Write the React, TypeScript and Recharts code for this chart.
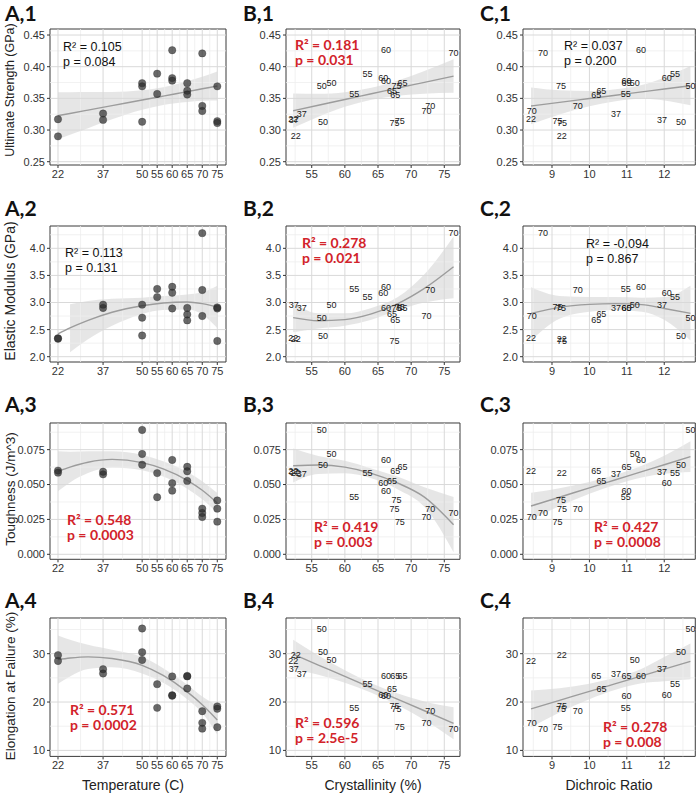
import React from 'react';
import { ComposedChart, Scatter, Line, Area, XAxis, YAxis, ReferenceLine, ReferenceArea } from 'recharts';

// ---------------- data (one entry per specimen) ----------------
const temperatures = [22, 22, 37, 37, 50, 50, 50, 55, 55, 60, 60, 60, 65, 65, 65, 70, 70, 70, 75, 75, 75];
const crystallinity = [52.2, 52.6, 53.5, 52.3, 58.0, 56.5, 56.7, 63.4, 61.4, 66.2, 65.8, 66.2, 68.7, 67.1, 67.6, 76.4, 72.9, 72.3, 67.8, 68.3, 67.5];
const dichroicRatio = [8.44, 9.26, 10.71, 11.94, 11.21, 12.7, 12.45, 12.29, 10.97, 11.38, 12.07, 10.99, 10.99, 10.32, 10.18, 8.76, 9.69, 8.46, 9.24, 9.15, 9.27];
const ultimateStrength = [0.317, 0.29, 0.326, 0.316, 0.374, 0.369, 0.313, 0.389, 0.357, 0.426, 0.382, 0.378, 0.374, 0.362, 0.356, 0.421, 0.338, 0.33, 0.369, 0.314, 0.311];
const elasticModulus = [2.34, 2.33, 2.9, 2.96, 2.96, 2.72, 2.39, 3.1, 3.25, 3.29, 3.18, 2.89, 2.9, 2.78, 2.67, 4.28, 3.23, 2.75, 2.89, 2.91, 2.29];
const toughness = [0.06, 0.0585, 0.0573, 0.0592, 0.0719, 0.0891, 0.0642, 0.0582, 0.0409, 0.0676, 0.051, 0.0456, 0.0627, 0.0526, 0.0595, 0.0296, 0.0327, 0.0267, 0.0386, 0.0234, 0.0327];
const elongation = [28.5, 29.7, 25.9, 26.8, 28.7, 35.2, 30.3, 23.7, 18.8, 25.3, 21.4, 21.3, 25.3, 22.8, 25.4, 14.5, 18.1, 15.7, 18.6, 14.8, 19.1];

// ---------------- axis ticks ----------------
const tempTicks = [22, 37, 50, 55, 60, 65, 70, 75];
const crystTicks = [55, 60, 65, 70, 75];
const dichroicTicks = [9, 10, 11, 12];
const strengthTicks = [0.25, 0.3, 0.35, 0.4, 0.45];
const modulusTicks = [2.0, 2.5, 3.0, 3.5, 4.0];
const toughnessTicks = [0, 0.025, 0.05, 0.075];
const elongationTicks = [10, 20, 30];

const tempMinor = [29.5, 43.5, 52.5, 57.5, 62.5, 67.5, 72.5];
const crystMinor = [52.5, 57.5, 62.5, 67.5, 72.5];
const dichroicMinor = [8.5, 9.5, 10.5, 11.5, 12.5];
const strengthMinor = [0.275, 0.325, 0.375, 0.425];
const modulusMinor = [2.25, 2.75, 3.25, 3.75, 4.25];
const toughnessMinor = [0.0125, 0.0375, 0.0625, 0.0875];
const elongationMinor = [15, 25, 35];

// ---------------- fitted curves and confidence bands ----------------
const fitXTemp = [22, 26, 32, 40, 50, 57, 65, 70, 75];
const fitXCryst = [52.2, 56, 60, 64, 68, 72, 76.4];
const fitXDichroic = [8.44, 9.2, 10, 10.7, 11.4, 12, 12.7];

const fitA1 = [0.3227, 0.3262, 0.3315, 0.3386, 0.3474, 0.3536, 0.3607, 0.3651, 0.3695];
const loA1 = [0.2857, 0.2927, 0.303, 0.317, 0.3319, 0.3396, 0.3444, 0.3461, 0.3465];
const hiA1 = [0.3597, 0.3597, 0.36, 0.3602, 0.3629, 0.3676, 0.377, 0.3841, 0.3925];
const fitA2 = [2.42, 2.53, 2.67, 2.82, 2.94, 2.99, 3.01, 2.98, 2.92];
const loA2 = [null, 2.08, 2.32, 2.57, 2.79, 2.86, 2.87, 2.78, 2.53];
const hiA2 = [null, 2.97, 3.03, 3.07, 3.09, 3.12, 3.15, 3.19, 3.31];
const fitA3 = [0.0595, 0.0625, 0.066, 0.068, 0.0657, 0.0612, 0.053, 0.0459, 0.0368];
const loA3 = [0.0452, 0.0515, 0.0582, 0.0622, 0.0602, 0.0557, 0.047, 0.0394, 0.0296];
const hiA3 = [0.0738, 0.0735, 0.0738, 0.0738, 0.0712, 0.0667, 0.059, 0.0524, 0.044];
const fitA4 = [28.76, 29.1, 29.35, 29.0, 27.6, 25.5, 22.1, 19.45, 16.3];
const loA4 = [23.76, 25.3, 26.85, 27.2, 25.9, 24.0, 20.6, 17.75, 13.3];
const hiA4 = [33.76, 32.9, 31.85, 30.8, 29.3, 27.0, 23.6, 21.15, 19.3];

const fitB1 = [0.3305, 0.3391, 0.3482, 0.3572, 0.3663, 0.3753, 0.3852];
const loB1 = [0.3035, 0.3211, 0.3367, 0.3477, 0.3543, 0.3573, 0.3587];
const hiB1 = [0.3575, 0.3571, 0.3597, 0.3667, 0.3783, 0.3933, 0.4117];
const fitB2 = [2.72, 2.663, 2.684, 2.79, 2.98, 3.26, 3.66];
const loB2 = [2.45, 2.52, 2.57, 2.68, 2.86, 3.0, 3.08];
const hiB2 = [3.01, 2.8, 2.8, 2.9, 3.1, 3.52, 4.22];
const fitB3 = [0.0635, 0.064, 0.0625, 0.058, 0.051, 0.041, 0.0212];
const loB3 = [0.0515, 0.0575, 0.058, 0.0545, 0.0465, 0.034, 0.0015];
const hiB3 = [0.0758, 0.0705, 0.067, 0.0615, 0.0555, 0.048, 0.041];
const fitB4 = [29.9, 27.65, 25.3, 22.9, 20.55, 18.2, 15.6];
const loB4 = [26.9, 25.65, 24.0, 21.9, 19.35, 16.3, 12.3];
const hiB4 = [32.9, 29.65, 26.6, 23.9, 21.75, 20.1, 18.9];

const fitC1 = [0.338, 0.3437, 0.3497, 0.355, 0.3602, 0.3647, 0.37];
const loC1 = [0.309, 0.3247, 0.3377, 0.3455, 0.3492, 0.3467, 0.339];
const hiC1 = [0.367, 0.3627, 0.3617, 0.3645, 0.3712, 0.3827, 0.401];
const fitC2 = [2.8, 2.91, 2.965, 2.98, 2.96, 2.89, 2.8];
const loC2 = [2.3, 2.7, 2.83, 2.86, 2.83, 2.68, 2.3];
const hiC2 = [3.28, 3.12, 3.1, 3.1, 3.09, 3.1, 3.31];
const fitC3 = [0.0346, 0.0409, 0.0476, 0.0534, 0.0592, 0.0642, 0.07];
const loC3 = [0.0251, 0.0344, 0.0434, 0.0498, 0.055, 0.0577, 0.059];
const hiC3 = [0.0441, 0.0474, 0.0518, 0.057, 0.0634, 0.0707, 0.081];
const fitC4 = [18.6, 20.35, 22.2, 23.8, 25.4, 26.8, 28.4];
const loC4 = [14.8, 17.85, 20.6, 22.55, 23.9, 24.3, 24.7];
const hiC4 = [22.4, 22.85, 23.8, 25.05, 26.9, 29.3, 32.1];

// ---------------- statistics text ----------------
const r2Text = ['0.105', '0.181', '0.037', '0.113', '0.278', '-0.094', '0.548', '0.419', '0.427', '0.571', '0.596', '0.278'];
const pText = ['0.084', '0.031', '0.200', '0.131', '0.021', '0.867', '0.0003', '0.003', '0.0008', '0.0002', '2.5e-5', '0.008'];
const significant = [false, true, false, false, true, false, true, true, true, true, true, true];

const yTitles = ['Ultimate Strength (GPa)', 'Elastic Modulus (GPa)', 'Toughness (J/m^3)', 'Elongation at Failure (%)'];
const xTitles = ['Temperature (C)', 'Crystallinity (%)', 'Dichroic Ratio'];
const colLetters = ['A', 'B', 'C'];

// ---------------- layout / style ----------------
const COL_X = [[50, 226], [286, 460], [522.7, 695]];
const ROW_Y = [[29, 165], [226, 362], [422.7, 559], [618.3, 756.7]];
const X_DOMAINS: [number, number][] = [[19.34, 77.9], [51.12, 77.37], [8.225, 12.83]];
const Y_DOMAINS: [number, number][] = [[0.2448, 0.4595], [1.902, 4.412], [-0.00358, 0.0941], [8.76, 37.38]];
const TITLE_X = [5, 243, 480];
const TITLE_Y = [21, 216, 412, 608];
const ANN_POS = [
  [63, 51], [295, 50], [564, 50],
  [65, 257], [302, 248], [586, 248],
  [67, 525], [314, 532], [594, 532],
  [70, 715], [295, 728], [603, 732],
];
const X_TITLE_CX = [133, 373, 609];
const Y_TITLE_CY = [90, 291, 489, 686];
const Y_TITLE_SIZE = [12.5, 14, 13.5, 13.5];

const FONT = "'Liberation Sans', Arial, sans-serif";
const BOLD = "Lato, 'Open Sans', sans-serif";
const RED = '#d2232a';

const X_VALUES = [temperatures, crystallinity, dichroicRatio];
const Y_VALUES = [ultimateStrength, elasticModulus, toughness, elongation];
const X_TICKS = [tempTicks, crystTicks, dichroicTicks];
const Y_TICKS = [strengthTicks, modulusTicks, toughnessTicks, elongationTicks];
const X_MINOR = [tempMinor, crystMinor, dichroicMinor];
const Y_MINOR = [strengthMinor, modulusMinor, toughnessMinor, elongationMinor];
const FIT_X = [fitXTemp, fitXCryst, fitXDichroic];
const FITS = [
  [[fitA1, loA1, hiA1], [fitB1, loB1, hiB1], [fitC1, loC1, hiC1]],
  [[fitA2, loA2, hiA2], [fitB2, loB2, hiB2], [fitC2, loC2, hiC2]],
  [[fitA3, loA3, hiA3], [fitB3, loB3, hiB3], [fitC3, loC3, hiC3]],
  [[fitA4, loA4, hiA4], [fitB4, loB4, hiB4], [fitC4, loC4, hiC4]],
];
const Y_FORMAT = [
  (v: number) => v.toFixed(2),
  (v: number) => v.toFixed(1),
  (v: number) => v.toFixed(3),
  (v: number) => String(v),
];

const dotShape = (p: any) => (
  <circle cx={p.cx} cy={p.cy} r={3.7} fill="#2b2b2b" fillOpacity={0.7} stroke="#222" strokeOpacity={0.5} strokeWidth={0.6} />
);
const labelShape = (p: any) => (
  <text x={p.cx} y={p.cy} textAnchor="middle" dominantBaseline="central" fontSize={9} fontFamily={FONT} fill="#1a1a1a">
    {p.payload.label}
  </text>
);

function Panel({ col, row }: { col: number; row: number }) {
  const [px0, px1] = COL_X[col];
  const [py0, py1] = ROW_Y[row];
  const ML = 45, MT = 6, MR = 6, MB = 22;
  const w = px1 - px0 + ML + MR;
  const h = py1 - py0 + MT + MB;
  const xd = X_DOMAINS[col];
  const yd = Y_DOMAINS[row];
  const points = X_VALUES[col].map((xv, i) => ({ x: xv, y: Y_VALUES[row][i], label: String(temperatures[i]) }));
  const [mid, lo, hi] = FITS[row][col];
  const fit = FIT_X[col].map((xv, i) => ({
    x: xv,
    y: mid[i],
    band: lo[i] == null || hi[i] == null ? null : [lo[i], hi[i]],
  }));
  const tickStyle = { fontSize: 11, fill: '#333', fontFamily: FONT };
  return (
    <div style={{ position: 'absolute', left: px0 - ML, top: py0 - MT, width: w, height: h }}>
      <ComposedChart width={w} height={h} data={fit} margin={{ top: MT, right: MR, bottom: MB - 20, left: ML - 40 }}>
        <XAxis type="number" dataKey="x" domain={xd} ticks={X_TICKS[col]} allowDataOverflow interval={0} height={20}
          tickSize={3} tickMargin={2} axisLine={false} tickLine={{ stroke: '#333' }} tick={tickStyle} />
        <YAxis type="number" dataKey="y" domain={yd} ticks={Y_TICKS[row]} allowDataOverflow interval={0} width={40}
          tickSize={3} tickMargin={2} axisLine={false} tickLine={{ stroke: '#333' }} tick={tickStyle} tickFormatter={Y_FORMAT[row]} />
        {X_MINOR[col].map((v) => <ReferenceLine key={'xm' + v} x={v} stroke="#ededed" strokeWidth={0.8} />)}
        {Y_MINOR[row].map((v) => <ReferenceLine key={'ym' + v} y={v} stroke="#ededed" strokeWidth={0.8} />)}
        {X_TICKS[col].map((v) => <ReferenceLine key={'xM' + v} x={v} stroke="#d9d9d9" strokeWidth={1} />)}
        {Y_TICKS[row].map((v) => <ReferenceLine key={'yM' + v} y={v} stroke="#d9d9d9" strokeWidth={1} />)}
        <Area type="monotone" dataKey="band" stroke="none" fill="#bdbdbd" fillOpacity={0.38} isAnimationActive={false} connectNulls={false} />
        <Line type="monotone" dataKey="y" stroke="#9c9c9c" strokeWidth={1.4} dot={false} isAnimationActive={false} />
        <Scatter data={points} isAnimationActive={false} shape={col === 0 ? dotShape : labelShape} />
        <ReferenceArea x1={xd[0]} x2={xd[1]} y1={yd[0]} y2={yd[1]} fill="none" stroke="#3a3a3a" strokeWidth={1} ifOverflow="visible" />
      </ComposedChart>
    </div>
  );
}

export default function App() {
  const panels: React.ReactNode[] = [];
  for (let r = 0; r < 4; r++) for (let c = 0; c < 3; c++) panels.push(<Panel key={r + '-' + c} col={c} row={r} />);
  return (
    <div style={{ position: 'absolute', left: 0, top: 0, width: 700, height: 797, background: '#fff', overflow: 'hidden' }}>
      {panels}
      <svg width={700} height={797} style={{ position: 'absolute', left: 0, top: 0, pointerEvents: 'none' }}>
        {ROW_Y.map((ry, r) =>
          colLetters.map((L, c) => (
            <text key={'t' + r + c} x={TITLE_X[c]} y={TITLE_Y[r]} fontFamily={BOLD} fontWeight={700} fontSize={21} fill="#111">
              {L + ',' + (r + 1)}
            </text>
          ))
        )}
        {Y_TITLE_CY.map((cy, r) => (
          <text key={'yt' + r} x={10} y={cy} transform={`rotate(-90 10 ${cy})`} textAnchor="middle" dominantBaseline="central"
            fontFamily={FONT} fontSize={Y_TITLE_SIZE[r]} fill="#222">{yTitles[r]}</text>
        ))}
        {xTitles.map((t, c) => (
          <text key={'xt' + c} x={X_TITLE_CX[c]} y={790} textAnchor="middle" fontFamily={FONT} fontSize={14} fill="#222">{t}</text>
        ))}
        {ANN_POS.map(([ax, ay], i) => {
          const sig = significant[i];
          return (
            <g key={'a' + i} fontFamily={sig ? BOLD : FONT} fontWeight={sig ? 700 : 400} fontSize={sig ? 14 : 12.5} fill={sig ? RED : '#111'}>
              <text x={ax} y={ay}>{'R\u00b2 = ' + r2Text[i]}</text>
              <text x={ax} y={ay + 15}>{'p = ' + pText[i]}</text>
            </g>
          );
        })}
      </svg>
    </div>
  );
}
